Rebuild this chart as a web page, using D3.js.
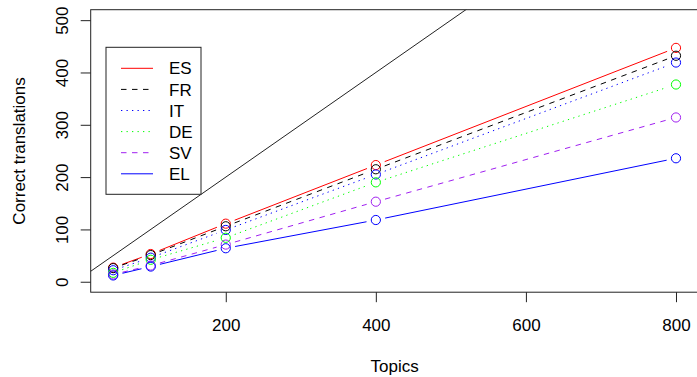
<!DOCTYPE html>
<html>
<head>
<meta charset="utf-8">
<script src="https://cdn.jsdelivr.net/npm/d3@7"></script>
<style>
  body { margin: 0; background: #fff; }
  svg text { font-family: "Liberation Sans", Arial, Helvetica, sans-serif; font-size: 17px; fill: #000; }
</style>
</head>
<body>
<svg id="chart" width="697" height="377"></svg>
<script>
// data
const topics = [50, 100, 200, 400, 800];
const langs  = ["ES", "FR", "IT", "DE", "SV", "EL"];
const esVals = [27, 53, 111, 223, 447];
const frVals = [26, 51, 106, 215, 432];
const itVals = [22, 46, 99, 205, 419];
const deVals = [17, 42, 84, 190, 377];
const svVals = [14, 31, 71, 153, 314];
const elVals = [12, 29, 64, 118, 236];
const xTicks = [200, 400, 600, 800];
const yTicks = [0, 100, 200, 300, 400, 500];

// R-ish styles
const colors = ["#ff0000", "#000000", "#0000ff", "#00ff00", "#a020f0", "#0000ff"];
const dashes = [null, "5.5,5.5", "1.3,4.2", "1.3,4.2", "5.5,5.5", null];

const series = langs.map((l, i) => ({
  name: l,
  values: [esVals, frVals, itVals, deVals, svVals, elVals][i],
  color: colors[i],
  dash: dashes[i]
}));

const svg = d3.select("#chart");
const plotL = 90.7, plotR = 698.5, plotT = 9.7, plotB = 292.2;

const x = d3.scaleLinear().domain([20, 830]).range([plotL, plotR]);
const y = d3.scaleLinear().domain([-20, 520]).range([plotB, plotT]);

svg.append("clipPath").attr("id", "plotclip")
  .append("rect")
    .attr("x", plotL).attr("y", plotT)
    .attr("width", plotR - plotL).attr("height", plotB - plotT);

// y = x reference line
svg.append("line")
  .attr("clip-path", "url(#plotclip)")
  .attr("x1", x(0)).attr("y1", y(0))
  .attr("x2", x(600)).attr("y2", y(600))
  .style("stroke", "#222")
  .style("stroke-width", 1);

// lines with gaps (type = "b")
const GAP = 9.5;
const seg = svg.append("g").attr("clip-path", "url(#plotclip)");
series.forEach(s => {
  const pts = topics.map((t, i) => [x(t), y(s.values[i])]);
  for (let i = 0; i < pts.length - 1; i++) {
    const [x0, y0] = pts[i], [x1, y1] = pts[i + 1];
    const len = Math.hypot(x1 - x0, y1 - y0);
    if (len <= 2 * GAP) continue;
    const ux = (x1 - x0) / len, uy = (y1 - y0) / len;
    seg.append("line")
      .attr("x1", x0 + ux * GAP).attr("y1", y0 + uy * GAP)
      .attr("x2", x1 - ux * GAP).attr("y2", y1 - uy * GAP)
      .style("stroke", s.color)
      .style("stroke-width", 1)
      .style("stroke-dasharray", s.dash);
  }
  seg.selectAll(null)
    .data(s.values)
    .join("circle")
      .attr("cx", (d, i) => x(topics[i]))
      .attr("cy", d => y(d))
      .attr("r", 4.6)
      .style("fill", "none")
      .style("stroke", s.color)
      .style("stroke-width", 1);
});

// axes
const xAxis = svg.append("g")
  .attr("transform", `translate(0,${plotB})`)
  .call(d3.axisBottom(x).tickValues(xTicks).tickSize(10).tickPadding(17).tickSizeOuter(0));
xAxis.select(".domain").remove();
xAxis.selectAll("line").style("stroke", "#222");
xAxis.selectAll("text").attr("font-size", null).attr("font-family", null);

const yAxis = svg.append("g")
  .attr("transform", `translate(${plotL},0)`)
  .call(d3.axisLeft(y).tickValues(yTicks).tickSize(10).tickSizeOuter(0));
yAxis.select(".domain").remove();
yAxis.selectAll("line").style("stroke", "#222");
yAxis.selectAll("text")
  .attr("font-size", null).attr("font-family", null)
  .attr("x", null).attr("dy", null)
  .attr("text-anchor", "middle")
  .attr("transform", "translate(-22.7,0) rotate(-90)");

// box
svg.append("rect")
  .attr("x", plotL).attr("y", plotT)
  .attr("width", plotR - plotL).attr("height", plotB - plotT)
  .style("fill", "none")
  .style("stroke", "#222")
  .style("stroke-width", 1);

// axis titles
svg.append("text")
  .attr("x", (plotL + plotR) / 2)
  .attr("y", 372)
  .attr("text-anchor", "middle")
  .text("Topics");

svg.append("text")
  .attr("transform", `translate(25,${(plotT + plotB) / 2}) rotate(-90)`)
  .attr("text-anchor", "middle")
  .text("Correct translations");

// legend
const legend = svg.append("g");
legend.append("rect")
  .attr("x", 106).attr("y", 47.3)
  .attr("width", 95).attr("height", 147)
  .style("fill", "#fff")
  .style("stroke", "#222")
  .style("stroke-width", 1);
series.forEach((s, i) => {
  const ly = 68.3 + i * 21.1;
  legend.append("line")
    .attr("x1", 121).attr("x2", 153)
    .attr("y1", ly).attr("y2", ly)
    .style("stroke", s.color)
    .style("stroke-width", 1)
    .style("stroke-dasharray", s.dash);
  legend.append("text")
    .attr("x", 169).attr("y", ly)
    .attr("dy", "0.36em")
    .text(s.name);
});
</script>
</body>
</html>
